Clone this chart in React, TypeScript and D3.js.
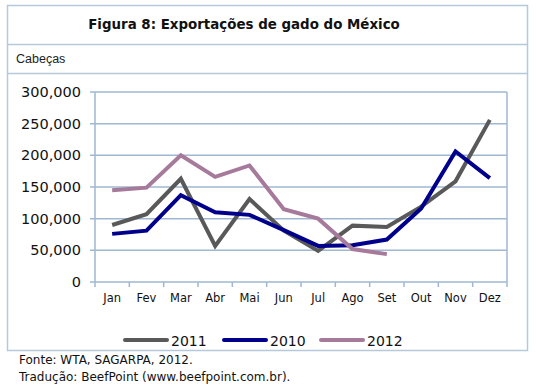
import React from 'react';
import * as d3 from 'd3';

const months = ['Jan', 'Fev', 'Mar', 'Abr', 'Mai', 'Jun', 'Jul', 'Ago', 'Set', 'Out', 'Nov', 'Dez'];
const yTicks = [0, 50000, 100000, 150000, 200000, 250000, 300000];

const s2011 = [90000, 107000, 163000, 57000, 131000, 81000, 49000, 89000, 87000, 119000, 159000, 256000];
const s2010 = [76000, 81000, 137000, 110000, 106000, 82000, 57000, 58000, 67000, 116000, 206000, 164000];
const s2012 = [145000, 149000, 200000, 166000, 184000, 115000, 100000, 52000, 44000];

const series = [
  { name: '2011', values: s2011, color: '#595959' },
  { name: '2010', values: s2010, color: '#00008b' },
  { name: '2012', values: s2012, color: '#a57a9a' },
];

const W = 536;
const H = 390;
const plot = { left: 95, right: 507, top: 92, bottom: 282 };
const frameColor = '#b6c9dc';
const gridColor = '#9fb8d2';
const font = '"DejaVu Sans", Verdana, sans-serif';

const App = () => {
  // scales
  const x = d3.scaleBand<string>().domain(months).range([plot.left, plot.right]);
  const y = d3.scaleLinear().domain([0, 300000]).range([plot.bottom, plot.top]);
  const fmt = d3.format(',');

  const lineFn = d3.line<number>()
    .x((d, i) => (x(months[i]) as number) + x.bandwidth() / 2)
    .y(d => y(d));

  // legend positions
  const legendX = [125, 224, 321];

  return (
    <svg width={W} height={H} style={{ position: 'absolute', left: 0, top: 0, background: '#fff' }}>
      {/* outer frame */}
      <rect x={7.5} y={5.5} width={520} height={345} fill="#fff" stroke={frameColor} strokeWidth={1.5} />
      <line x1={7.5} x2={527.5} y1={44.5} y2={44.5} stroke={frameColor} strokeWidth={1.5} />
      <line x1={7.5} x2={527.5} y1={73.5} y2={73.5} stroke={frameColor} strokeWidth={1.5} />
      <text x={244} y={29} textAnchor="middle" fontFamily={font} fontWeight="bold" fontSize={13.4} fill="#111">
        Figura 8: Exportações de gado do México
      </text>
      <text x={16} y={63} fontFamily='"Liberation Sans", Arial, sans-serif' fontSize={12.5} fill="#222">Cabeças</text>

      {/* gridlines */}
      {yTicks.map(t => (
        <g key={t}>
          <line x1={plot.left - 5} x2={plot.right} y1={y(t)} y2={y(t)} stroke={gridColor} strokeWidth={1.5} />
          <text x={81} y={y(t) + 5} textAnchor="end" fontFamily={font} fontSize={14.5} fill="#111">{fmt(t)}</text>
        </g>
      ))}
      {/* plot border */}
      <line x1={plot.left} x2={plot.left} y1={plot.top} y2={plot.bottom} stroke={gridColor} strokeWidth={1.5} />
      <line x1={plot.right} x2={plot.right} y1={plot.top} y2={plot.bottom} stroke={gridColor} strokeWidth={1.5} />

      {/* x ticks */}
      {months.map((m, i) => (
        <g key={m}>
          <line x1={x(m) as number} x2={x(m) as number} y1={plot.bottom} y2={plot.bottom + 5} stroke={gridColor} strokeWidth={1.5} />
          {i === months.length - 1 && (
            <line x1={plot.right} x2={plot.right} y1={plot.bottom} y2={plot.bottom + 5} stroke={gridColor} strokeWidth={1.5} />
          )}
          <text x={(x(m) as number) + x.bandwidth() / 2} y={302} textAnchor="middle" fontFamily={font} fontSize={11.5} fill="#111">{m}</text>
        </g>
      ))}

      {/* lines */}
      {series.map(s => (
        <path key={s.name} d={lineFn(s.values) || ''} fill="none" stroke={s.color} strokeWidth={4} strokeLinejoin="miter" />
      ))}

      {/* legend */}
      {series.map((s, i) => (
        <g key={s.name} transform={`translate(${legendX[i]},340)`}>
          <line x1={0} x2={42} y1={0} y2={0} stroke={s.color} strokeWidth={4} strokeLinecap="round" />
          <text x={46} y={5.5} fontFamily={font} fontSize={14} fill="#111">{s.name}</text>
        </g>
      ))}

      {/* footer */}
      <text x={19} y={364} fontFamily={font} fontSize={12} fill="#111">Fonte: WTA, SAGARPA, 2012.</text>
      <text x={19} y={381} fontFamily={font} fontSize={12} fill="#111">Tradução: BeefPoint (www.beefpoint.com.br).</text>
    </svg>
  );
};

export default App;
